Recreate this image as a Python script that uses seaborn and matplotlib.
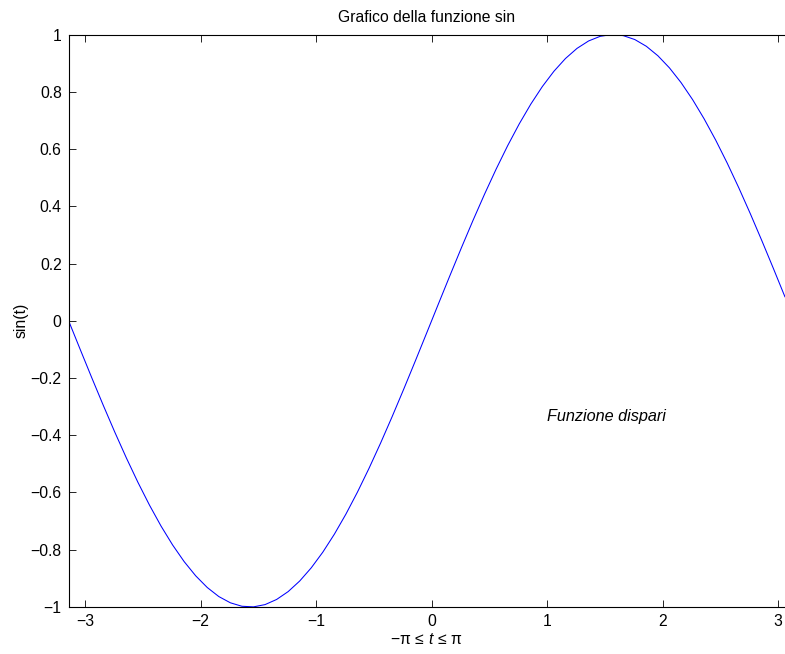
"""Grafico della funzione sin, stile MATLAB"""

import pandas as pd
import matplotlib
matplotlib.use('Agg')
import matplotlib.pyplot as plt
import seaborn as sns

# campioni (passo 0.1 da -pi)
t = [-3.1416, -3.0416, -2.9416, -2.8416, -2.7416, -2.6416, -2.5416, -2.4416,
     -2.3416, -2.2416, -2.1416, -2.0416, -1.9416, -1.8416, -1.7416, -1.6416,
     -1.5416, -1.4416, -1.3416, -1.2416, -1.1416, -1.0416, -0.9416, -0.8416,
     -0.7416, -0.6416, -0.5416, -0.4416, -0.3416, -0.2416, -0.1416, -0.0416,
     0.0584, 0.1584, 0.2584, 0.3584, 0.4584, 0.5584, 0.6584, 0.7584,
     0.8584, 0.9584, 1.0584, 1.1584, 1.2584, 1.3584, 1.4584, 1.5584,
     1.6584, 1.7584, 1.8584, 1.9584, 2.0584, 2.1584, 2.2584, 2.3584,
     2.4584, 2.5584, 2.6584, 2.7584, 2.8584, 2.9584, 3.0584]
y = [0.0, -0.0998, -0.1987, -0.2955, -0.3894, -0.4794, -0.5646, -0.6442,
     -0.7174, -0.7833, -0.8415, -0.8912, -0.9320, -0.9636, -0.9854, -0.9975,
     -0.9996, -0.9917, -0.9738, -0.9463, -0.9093, -0.8632, -0.8085, -0.7457,
     -0.6755, -0.5985, -0.5155, -0.4274, -0.3350, -0.2392, -0.1411, -0.0416,
     0.0584, 0.1577, 0.2555, 0.3508, 0.4425, 0.5298, 0.6119, 0.6878,
     0.7568, 0.8183, 0.8716, 0.9162, 0.9516, 0.9775, 0.9937, 0.9999,
     0.9962, 0.9825, 0.9589, 0.9258, 0.8835, 0.8323, 0.7728, 0.7055,
     0.6313, 0.5507, 0.4646, 0.3739, 0.2794, 0.1822, 0.0831]

xticks = [-3, -2, -1, 0, 1, 2, 3]
xticklabels = ['\u22123', '\u22122', '\u22121', '0', '1', '2', '3']
yticks = [-1, -0.8, -0.6, -0.4, -0.2, 0, 0.2, 0.4, 0.6, 0.8, 1]
yticklabels = ['\u22121', '\u22120.8', '\u22120.6', '\u22120.4', '\u22120.2', '0',
               '0.2', '0.4', '0.6', '0.8', '1']

df = pd.DataFrame({'t': t, 'y': y})

sns.set_style('white')
plt.rcParams['font.family'] = ['Liberation Sans', 'DejaVu Sans']
plt.rcParams['text.color'] = 'black'
plt.rcParams['mathtext.fontset'] = 'custom'
plt.rcParams['mathtext.rm'] = 'Liberation Sans'
plt.rcParams['mathtext.it'] = 'Liberation Sans:italic'

fs = 11.3

fig = plt.figure(figsize=(7.85, 6.54), dpi=100)
ax = fig.add_axes([0.0874, 0.0719, 0.9126, 0.8753])

sns.lineplot(data=df, x='t', y='y', ax=ax, color='#0000ff', linewidth=0.75, sort=False)

ax.set_xlim(t[0], t[-1])
ax.set_ylim(-1, 1)
ax.set_xticks(xticks)
ax.set_xticklabels(xticklabels, fontsize=fs)
ax.set_yticks(yticks)
ax.set_yticklabels(yticklabels, fontsize=fs)
ax.tick_params(direction='in', length=5, width=0.6, top=True, right=False,
               bottom=True, left=True, colors='black', pad=5)
for s in ax.spines.values():
    s.set_color('black')
    s.set_linewidth(0.8)
ax.spines['right'].set_visible(False)

ax.set_title('Grafico della funzione sin', fontsize=fs, pad=9, color='black')
ax.set_xlabel(r'$\mathrm{-\pi}\,\leq\,\mathit{t}\,\leq\,\mathrm{\pi}$', fontsize=fs,
              labelpad=2, color='black')
ax.set_ylabel('sin(t)', fontsize=fs, labelpad=1, color='black')
ax.text(1, -1/3, 'Funzione dispari', fontsize=fs + 0.4, style='italic',
        va='center', ha='left', color='black')

fig.savefig('out.png', dpi=100)
